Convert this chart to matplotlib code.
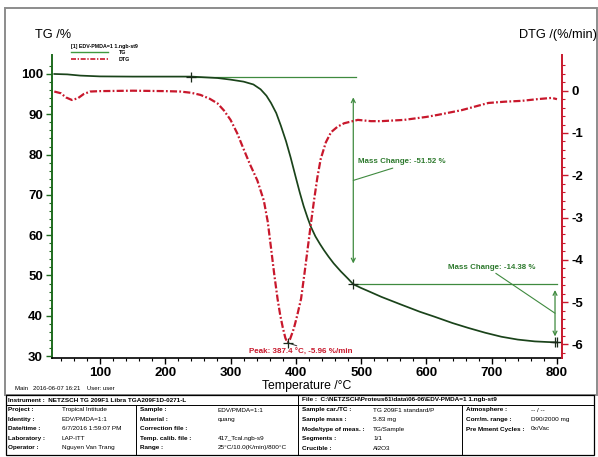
import matplotlib
matplotlib.use("Agg")
import matplotlib.pyplot as plt
import numpy as np
from matplotlib.lines import Line2D
from matplotlib.patches import Rectangle

plt.rcParams['font.family'] = ['Liberation Sans', 'DejaVu Sans']

# TG curve: residual mass (%) against temperature (°C)
temp_tg = [30, 50, 70, 100, 150, 200, 240, 280, 300, 320, 335, 346, 355, 362, 370,
           377, 385, 392, 400, 406, 412, 418, 423, 430, 437, 443, 450, 458, 469, 480, 488,
           500, 510, 531, 561, 590, 612, 640, 664, 690, 715, 740, 766, 785, 800]
tg = [100.0, 99.9, 99.6, 99.4, 99.35, 99.35, 99.35, 99.0, 98.6, 98.1, 97.4, 96.2, 94.6, 92.8, 90.3,
      87.2, 83.3, 79.3, 74.3, 70.6, 67.2, 64.3, 62.1, 59.7, 57.8, 56.3, 54.7, 53.0, 51.0, 49.2, 47.83,
      46.9, 46.2, 44.7, 42.8, 41.0, 39.8, 38.2, 37.0, 35.8, 34.8, 34.1, 33.65, 33.5, 33.4]

# DTG curve: rate of mass change (%/min)
temp_dtg = [30, 40, 48, 57, 66, 75, 85, 100, 150, 200, 223, 240, 254, 268, 280, 290, 300,
            310, 320, 330, 341, 351, 357, 362, 367, 372, 376, 380, 384, 387.4, 391, 397, 402,
            408, 413, 418, 423, 428, 433, 438, 446, 454, 464, 474, 495, 515, 531, 566, 600,
            618, 654, 695, 720, 746, 770, 792, 800]
dtg = [-0.02, -0.06, -0.16, -0.22, -0.18, -0.08, -0.02, -0.01, 0.0, -0.01, -0.02, -0.05, -0.1,
       -0.19, -0.3, -0.47, -0.69, -1.0, -1.38, -1.75, -2.12, -2.6, -3.1, -3.72, -4.35, -4.92,
       -5.3, -5.6, -5.85, -5.96, -5.88, -5.62, -5.32, -4.92, -4.35, -3.75, -3.15, -2.58, -2.05,
       -1.62, -1.22, -0.98, -0.85, -0.77, -0.69, -0.72, -0.72, -0.69, -0.62, -0.57, -0.46,
       -0.29, -0.26, -0.24, -0.2, -0.17, -0.2]

# evaluated mass-loss steps and DTG peak
step_temps = [240.0, 488.0, 797.0]
mass_changes = [-51.52, -14.38]
peak_temp = 387.4
peak_rate = -5.96

x_ticks = [100, 200, 300, 400, 500, 600, 700, 800]
tg_ticks = [30, 40, 50, 60, 70, 80, 90, 100]
dtg_ticks = [0, -1, -2, -3, -4, -5, -6]

# info block below the chart
header_info = [("Instrument :  NETZSCH TG 209F1 Libra TGA209F1D-0271-L", 8),
               ("File :  C:\\NETZSCH\\Proteus61\\data\\06-06\\EDV-PMDA=1 1.ngb-st9", 302)]
info_cols = [
    (8, 62, [("Project :", "Tropical Intitude"), ("Identity :", "EDV/PMDA=1:1"),
             ("Date/time :", "6/7/2016 1:59:07 PM"), ("Laboratory :", "LAP-ITT"),
             ("Operator :", "Nguyen Van Trang")]),
    (140, 218, [("Sample :", "EDV/PMDA=1:1"), ("Material :", "quang"),
                ("Correction file :", ""), ("Temp. calib. file :", "417_Tcal.ngb-s9"),
                ("Range :", "25°C/10.0(K/min)/800°C")]),
    (302, 373, [("Sample car./TC :", "TG 209F1 standard/P"), ("Sample mass :", "5.83 mg"),
                ("Mode/type of meas. :", "TG/Sample"), ("Segments :", "1/1"),
                ("Crucible :", "Al2O3")]),
    (466, 531, [("Atmosphere :", "-- / --"), ("Corr/m. range :", "D90/2000 mg"),
                ("Pre Mment Cycles :", "0x/Vac")]),
]

W, H = 598, 457
tg_color = '#1a431a'
green = '#3f8a3f'
spine_green = '#1e6b1e'
red = '#c8182c'


def fx(x):
    return x / W


def fy(y):
    return 1 - y / H


fig = plt.figure(figsize=(W / 100, H / 100), dpi=100)
ax = fig.add_axes([fx(52), fy(358), fx(562) - fx(52), fy(55) - fy(358)])
ax2 = ax.twinx()

# curves
ax.plot(temp_tg, tg, color=tg_color, lw=1.25, zorder=3)
ax2.plot(temp_dtg, dtg, color=red, lw=1.6, linestyle=(0, (3.2, 1, 0.8, 1)), zorder=3)

ax.set_xlim(26.5, 807.7)
ax.set_ylim(29.53, 104.71)
ax2.set_ylim(-6.32, 0.844)

# step evaluation on the TG curve
lev0 = np.interp(step_temps[0], temp_tg, tg)
lev1 = lev0 + mass_changes[0]
lev2 = lev1 + mass_changes[1]
levels = [lev0, lev1, lev2]

ax.plot([step_temps[0], step_temps[1] + 4], [lev0, lev0], color=green, lw=0.9, zorder=2)
ax.plot([step_temps[1], step_temps[2] + 3], [lev1, lev1], color=green, lw=0.9, zorder=2)
ax.plot([step_temps[0], step_temps[1], step_temps[2]], levels, '+', color='#1a2a1a',
        ms=7, mew=0.9, zorder=4)
ax.plot([step_temps[2] + 3], [lev2], '+', color='#1a2a1a', ms=7, mew=0.9, zorder=4)

for i, dm in enumerate(mass_changes):
    x = step_temps[i + 1]
    top, bot = levels[i], levels[i + 1]
    ax.annotate('', xy=(x, top + 0.1 * dm), xytext=(x, bot - 0.1 * dm),
                arrowprops=dict(arrowstyle='<->', color=green, lw=0.9,
                                shrinkA=0, shrinkB=0, mutation_scale=7))

text_pos = [(495, 78.2), (633, 52.1)]
for i, dm in enumerate(mass_changes):
    x = step_temps[i + 1]
    mid = (levels[i] + levels[i + 1]) / 2
    ax.annotate(f'Mass Change: {dm:.2f} %', xy=(x, mid), xytext=text_pos[i],
                ha='left', va='center', fontsize=5.7, fontweight='bold', color='#2e7a2e',
                arrowprops=dict(arrowstyle='-', color=green, lw=0.8, relpos=(0.5, 0),
                                shrinkA=0, shrinkB=0))

# DTG peak
ax2.plot([peak_temp], [peak_rate], '+', color='#1a2a1a', ms=7, mew=0.9, zorder=4)
ax2.annotate(f'Peak: {peak_temp:.1f} °C, {peak_rate:.2f} %/min', xy=(peak_temp, peak_rate),
             xytext=(408, -6.18), ha='center', va='center', fontsize=5.8,
             fontweight='bold', color=red,
             arrowprops=dict(arrowstyle='-', color='#333333', lw=0.7, relpos=(0.54, 1),
                             shrinkA=0, shrinkB=0))

# spines and ticks
ax.spines['top'].set_visible(False)
ax.spines['right'].set_visible(False)
ax.spines['left'].set_color(spine_green)
ax.spines['left'].set_linewidth(1.4)
ax.spines['bottom'].set_linewidth(1.2)
for s in ('top', 'left', 'bottom'):
    ax2.spines[s].set_visible(False)
ax2.spines['right'].set_color(red)
ax2.spines['right'].set_linewidth(1.4)

ax.set_xticks(x_ticks)
ax.set_xticks(np.arange(40, 808, 20), minor=True)
ax.set_yticks(tg_ticks)
ax.set_yticks(np.arange(30, 104, 2), minor=True)
ax2.set_yticks(dtg_ticks)
ax2.set_yticks(np.arange(-6.2, 0.8, 0.2), minor=True)

tick_font = dict(fontsize=9.5, fontweight='bold')
ax.set_xticklabels([str(t) for t in x_ticks], **tick_font)
ax.set_yticklabels([str(t) for t in tg_ticks], **tick_font)
ax2.set_yticklabels([str(t) for t in dtg_ticks], **tick_font)

ax.tick_params(axis='x', which='major', length=4, width=1, pad=2.5)
ax.tick_params(axis='x', which='minor', length=2, width=0.8)
ax.tick_params(axis='y', which='major', length=4, width=1, color=spine_green, pad=2.5)
ax.tick_params(axis='y', which='minor', length=2, width=0.8, color=spine_green)
ax2.tick_params(axis='y', which='major', length=4, width=1, color=red, pad=2.5)
ax2.tick_params(axis='y', which='minor', length=2, width=0.8, color=red)

ax.set_xlabel('Temperature /°C', fontsize=8.8, labelpad=0.5)

fig.text(fx(35), fy(35), 'TG /%', fontsize=9.2, ha='left', va='center')
fig.text(fx(597), fy(35), 'DTG /(%/min)', fontsize=9.2, ha='right', va='center')

# legend
handles = [Line2D([], [], color='#3f9a3f', lw=1.0),
           Line2D([], [], color=red, lw=1.2, linestyle=(0, (3, 1, 0.8, 1)))]
leg = ax.legend(handles, ['TG', 'DTG'], title='[1] EDV-PMDA=1 1.ngb-st9',
                loc='upper left', bbox_to_anchor=(0.033, 1.045), frameon=False,
                prop=dict(size=3.8, weight='bold'),
                title_fontproperties=dict(size=3.8, weight='bold'),
                handlelength=7, handletextpad=2.0, labelspacing=0.25, borderpad=0,
                alignment='left')

# outer frame
fig.add_artist(Rectangle((fx(5), fy(395)), fx(597) - fx(5), fy(8) - fy(395),
                         transform=fig.transFigure, fill=False, ec='#8c8c8c', lw=1.4))

fig.text(fx(15), fy(389), 'Main   2016-06-07 16:21    User: user', fontsize=4.3,
         ha='left', va='center')

# info table
tbl_top, tbl_bot, hdr_line = 395, 455, 405
fig.add_artist(Rectangle((fx(6), fy(tbl_bot)), fx(594) - fx(6), fy(tbl_top) - fy(tbl_bot),
                         transform=fig.transFigure, fill=False, ec='black', lw=0.9))
fig.add_artist(Line2D([fx(6), fx(594)], [fy(hdr_line), fy(hdr_line)],
                      transform=fig.transFigure, color='black', lw=0.7))
fig.add_artist(Line2D([fx(298), fx(298)], [fy(tbl_top), fy(tbl_bot)],
                      transform=fig.transFigure, color='black', lw=0.7))
for xs in (136, 462):
    fig.add_artist(Line2D([fx(xs), fx(xs)], [fy(hdr_line), fy(tbl_bot)],
                          transform=fig.transFigure, color='black', lw=0.7))

for text, x in header_info:
    fig.text(fx(x), fy(400), text, fontsize=4.6, fontweight='bold', ha='left', va='center')

row_y = [410, 419.5, 429, 438.5, 448]
for lx, vx, rows in info_cols:
    for (label, value), y in zip(rows, row_y):
        fig.text(fx(lx), fy(y), label, fontsize=4.6, fontweight='bold', ha='left', va='center')
        fig.text(fx(vx), fy(y), value, fontsize=4.6, ha='left', va='center')

fig.savefig('out.png', dpi=100)
